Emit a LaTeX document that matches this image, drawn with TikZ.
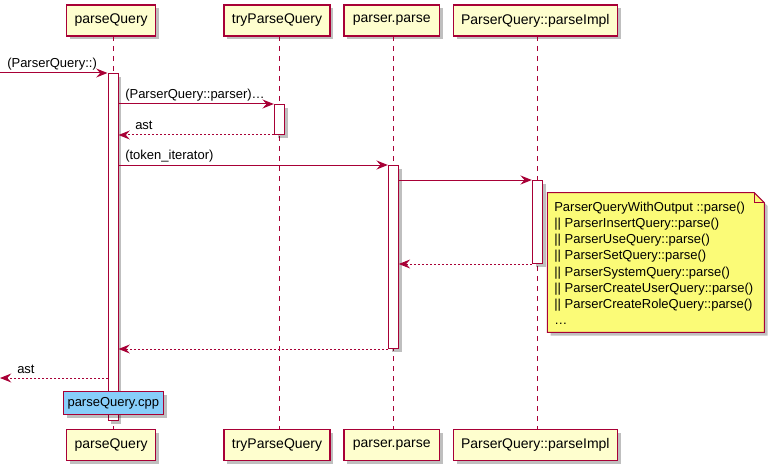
\documentclass[tikz,border=0pt]{standalone}
\usepackage{fontspec}
\setmainfont{Liberation Sans}
\usetikzlibrary{arrows.meta,shadows}
\definecolor{puml}{HTML}{A80036}
\definecolor{partfill}{HTML}{FEFECE}
\definecolor{notefill}{HTML}{FBFB77}
\definecolor{bluenote}{HTML}{87CEFA}
\tikzset{
  shad/.style={drop shadow={shadow xshift=2.5pt, shadow yshift=-2.5pt, fill=black, opacity=0.25}},
  part/.style={draw=puml, line width=1.1pt, fill=partfill, shad, inner sep=0pt,
    minimum height=23.25pt, font=\fontsize{10.5pt}{12pt}\selectfont},
  life/.style={draw=puml, line width=0.75pt, dash pattern=on 3.75pt off 3.75pt},
  act/.style={draw=puml, line width=0.75pt, fill=white, shad, inner sep=0pt, minimum width=7.5pt},
  tip/.style={-{Stealth[length=8.5pt, width=6.75pt, inset=3pt]}},
  msg/.style={draw=puml, line width=0.75pt, tip},
  ret/.style={draw=puml, line width=0.75pt, tip, dash pattern=on 1.5pt off 1.5pt},
  lbl/.style={anchor=base west, inner sep=0pt, font=\fontsize{9.75pt}{12pt}\selectfont},
  notetxt/.style={anchor=base west, inner sep=0pt, font=\fontsize{9.75pt}{12pt}\selectfont},
}
\begin{document}
\begin{tikzpicture}[x=0.75pt, y=-0.75pt]
\useasboundingbox (0,0) rectangle (770,474);

% participants (top)
\node[part, minimum width=66.9pt] (pQt) at (111.1,20.5) {parseQuery};
\node[part, minimum width=79.5pt] (tPt) at (277,20.5) {tryParseQuery};
\node[part, minimum width=71.5pt] (ppt) at (391.7,20.5) {parser.parse};
\node[part, minimum width=123pt] (pit) at (535.3,20.5) {ParserQuery::parseImpl};

% participants (bottom)
\node[part, minimum width=66.9pt] (pQb) at (111.1,445.2) {parseQuery};
\node[part, minimum width=79.5pt] (tPb) at (277,445.2) {tryParseQuery};
\node[part, minimum width=71.5pt] (ppb) at (391.7,445.2) {parser.parse};
\node[part, minimum width=123pt] (pib) at (535.3,445.2) {ParserQuery::parseImpl};

% lifelines
\coordinate (l1t) at (113,36); \coordinate (l1b) at (113,429.5);
\coordinate (l2t) at (279.3,36); \coordinate (l2b) at (279.3,429.5);
\coordinate (l3t) at (393.3,36); \coordinate (l3b) at (393.3,429.5);
\coordinate (l4t) at (537.3,36); \coordinate (l4b) at (537.3,429.5);
\draw[life] (l1t) -- (l1b);
\draw[life] (l2t) -- (l2b);
\draw[life] (l3t) -- (l3b);
\draw[life] (l4t) -- (l4b);

% activations
\node[act, anchor=north, minimum height=260.25pt] (aPQ) at (113,73) {};
\node[act, anchor=north, minimum height=22.5pt] (aTP) at (279.3,104) {};
\node[act, anchor=north, minimum height=137.25pt] (aPP) at (393.3,165) {};
\node[act, anchor=north, minimum height=62.25pt] (aPI) at (537.3,180) {};

% messages
\coordinate (m1s) at (0,73);
\draw[msg] (m1s) -- (aPQ.north west);
\node[lbl] (t1) at (7,68) {(ParserQuery::)};

\draw[msg] (aPQ.east |- aTP.north) -- (aTP.north west);
\node[lbl] (t2) at (125,99) {(ParserQuery::parser)…};

\draw[ret] (aTP.south west) -- (aPQ.east |- aTP.south);
\node[lbl] (t3) at (135,129.5) {ast};

\draw[msg] (aPQ.east |- aPP.north) -- (aPP.north west);
\node[lbl] (t4) at (125,160) {(token\_iterator)};

\draw[msg] (aPP.east |- aPI.north) -- (aPI.north west);

\draw[ret] (aPI.south west) -- (aPP.east |- aPI.south);

\draw[ret] (aPP.south west) -- (aPQ.east |- aPP.south);

\coordinate (m8s) at (108,378);
\coordinate (m8e) at (0,378);
\draw[ret] (m8s) -- (m8e);
\node[lbl] (t8) at (17,373) {ast};

% note
\coordinate (n1) at (547.3,192.7);
\coordinate (n2) at (754.3,192.7);
\coordinate (n3) at (764.3,202.7);
\coordinate (n4) at (764.3,332.3);
\coordinate (n5) at (547.3,332.3);
\coordinate (nf) at (754.3,202.7);
\draw[puml, line width=0.75pt, fill=notefill, shad] (n1) -- (n2) -- (n3) -- (n4) -- (n5) -- cycle;
\draw[puml, line width=0.75pt] (n2) -- (nf) -- (n3);
\foreach \t [count=\i from 0] in {ParserQueryWithOutput ::parse(),
  {|}{|} ParserInsertQuery::parse(),
  {|}{|} ParserUseQuery::parse(),
  {|}{|} ParserSetQuery::parse(),
  {|}{|} ParserSystemQuery::parse(),
  {|}{|} ParserCreateUserQuery::parse(),
  {|}{|} ParserCreateRoleQuery::parse(),
  …}
  \node[notetxt] (nl\i) at (554,{211.2+16.25*\i}) {\t};

% file note
\node[draw=puml, line width=0.75pt, fill=bluenote, shad, minimum width=75pt, minimum height=17.5pt,
  inner sep=0pt, font=\fontsize{9.75pt}{12pt}\selectfont] (cpp) at (113.3,403.3) {parseQuery.cpp};

\end{tikzpicture}
\end{document}
